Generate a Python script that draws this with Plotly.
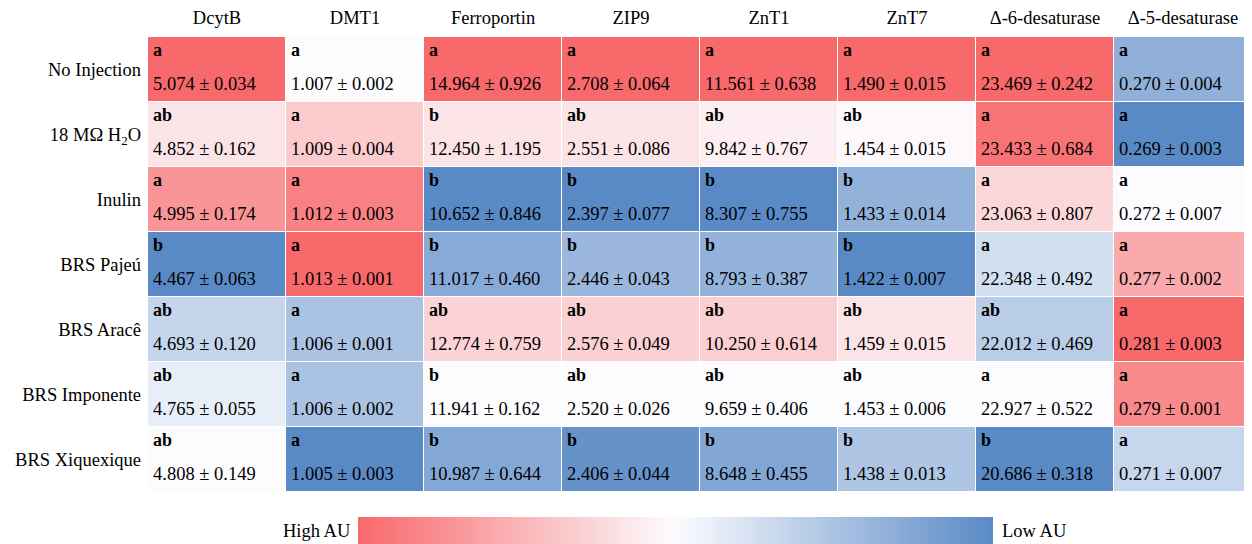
import plotly.graph_objects as go
import numpy as np

genes = ["DcytB", "DMT1", "Ferroportin", "ZIP9", "ZnT1", "ZnT7", "Δ-6-desaturase", "Δ-5-desaturase"]
treatments = ["No Injection", "18 MΩ H<sub>2</sub>O", "Inulin", "BRS Pajeú", "BRS Aracê", "BRS Imponente", "BRS Xiquexique"]

# mean values (rows = treatments, columns = genes)
means = [
    [5.074, 1.007, 14.964, 2.708, 11.561, 1.490, 23.469, 0.270],
    [4.852, 1.009, 12.450, 2.551, 9.842, 1.454, 23.433, 0.269],
    [4.995, 1.012, 10.652, 2.397, 8.307, 1.433, 23.063, 0.272],
    [4.467, 1.013, 11.017, 2.446, 8.793, 1.422, 22.348, 0.277],
    [4.693, 1.006, 12.774, 2.576, 10.250, 1.459, 22.012, 0.281],
    [4.765, 1.006, 11.941, 2.520, 9.659, 1.453, 22.927, 0.279],
    [4.808, 1.005, 10.987, 2.406, 8.648, 1.438, 20.686, 0.271],
]
sds = [
    [0.034, 0.002, 0.926, 0.064, 0.638, 0.015, 0.242, 0.004],
    [0.162, 0.004, 1.195, 0.086, 0.767, 0.015, 0.684, 0.003],
    [0.174, 0.003, 0.846, 0.077, 0.755, 0.014, 0.807, 0.007],
    [0.063, 0.001, 0.460, 0.043, 0.387, 0.007, 0.492, 0.002],
    [0.120, 0.001, 0.759, 0.049, 0.614, 0.015, 0.469, 0.003],
    [0.055, 0.002, 0.162, 0.026, 0.406, 0.006, 0.522, 0.001],
    [0.149, 0.003, 0.644, 0.044, 0.455, 0.013, 0.318, 0.007],
]
letters = [
    ["a", "a", "a", "a", "a", "a", "a", "a"],
    ["ab", "a", "b", "ab", "ab", "ab", "a", "a"],
    ["a", "a", "b", "b", "b", "b", "a", "a"],
    ["b", "a", "b", "b", "b", "b", "a", "a"],
    ["ab", "a", "ab", "ab", "ab", "ab", "ab", "a"],
    ["ab", "a", "b", "ab", "ab", "ab", "a", "a"],
    ["ab", "a", "b", "b", "b", "b", "b", "a"],
]

M = np.array(means, dtype=float)
nr, nc = M.shape
# per-column 3-colour scale: max -> 0 (red), median -> 0.5 (white), min -> 1 (blue)
Z = np.zeros_like(M)
for j in range(nc):
    col = M[:, j]
    mn, md, mx = col.min(), np.median(col), col.max()
    for i in range(nr):
        v = col[i]
        if v >= md:
            Z[i, j] = 0.5 - 0.5 * (v - md) / (mx - md) if mx > md else 0.5
        else:
            Z[i, j] = 0.5 + 0.5 * (md - v) / (md - mn) if md > mn else 0.5

cscale = [[0, "#F8696B"], [0.5, "#FCFCFF"], [1, "#5A8AC6"]]
FONT = "Liberation Serif, Times New Roman, serif"
FS = 18.5

# page body has an 8px margin, so the figure is 8px smaller than the window
W, H = 1244, 536
L, T = 140, 29
PW, PH = 1104, 455
B = H - T - PH


def py(fig_y):
    return (T + PH - fig_y) / PH


def px(fig_x):
    return (fig_x - L) / PW


fig = go.Figure(go.Heatmap(
    z=Z, x=list(range(nc)), y=list(range(nr)),
    colorscale=cscale, zmin=0, zmax=1, xgap=1, ygap=1,
    hoverinfo="skip",
    colorbar=dict(orientation="h", x=px(667.5), xanchor="center",
                  y=py(509), yanchor="top", lenmode="pixels", len=635,
                  thickness=28, outlinewidth=0, showticklabels=False, ticks="",
                  xpad=0, ypad=0),
))

ann = []
for i in range(nr):
    for j in range(nc):
        ann.append(dict(x=j - 0.5, y=i - 0.30, xref="x", yref="y", text="<b>%s</b>" % letters[i][j],
                        showarrow=False, xanchor="left", yanchor="middle", xshift=3,
                        font=dict(family=FONT, size=18, color="black")))
        ann.append(dict(x=j - 0.5, y=i + 0.22, xref="x", yref="y",
                        text="%.3f ± %.3f" % (means[i][j], sds[i][j]),
                        showarrow=False, xanchor="left", yanchor="middle", xshift=3,
                        font=dict(family=FONT, size=FS, color="black")))
ann.append(dict(x=px(344), y=py(523), xref="paper", yref="paper", text="High AU",
                showarrow=False, xanchor="right", yanchor="middle", font=dict(family=FONT, size=FS, color="black")))
ann.append(dict(x=px(992), y=py(523), xref="paper", yref="paper", text="Low AU",
                showarrow=False, xanchor="left", yanchor="middle", font=dict(family=FONT, size=FS, color="black")))

fig.update_layout(
    width=W, height=H,
    margin=dict(l=L, r=W - L - PW, t=T, b=B, autoexpand=False),
    paper_bgcolor="white", plot_bgcolor="white",
    font=dict(family=FONT, size=FS, color="black"),
    xaxis=dict(side="top", tickmode="array", tickvals=list(range(nc)), ticktext=genes,
               showgrid=False, zeroline=False, ticks="", range=[-0.5, nc - 0.5],
               ticklabelstandoff=8,
               tickfont=dict(family=FONT, size=FS, color="black")),
    yaxis=dict(tickmode="array", tickvals=list(range(nr)), ticktext=treatments,
               showgrid=False, zeroline=False, ticks="", range=[nr - 0.5, -0.5],
               ticklabelstandoff=6,
               tickfont=dict(family=FONT, size=FS, color="black")),
    annotations=ann,
)

fig.write_html("out.html")
